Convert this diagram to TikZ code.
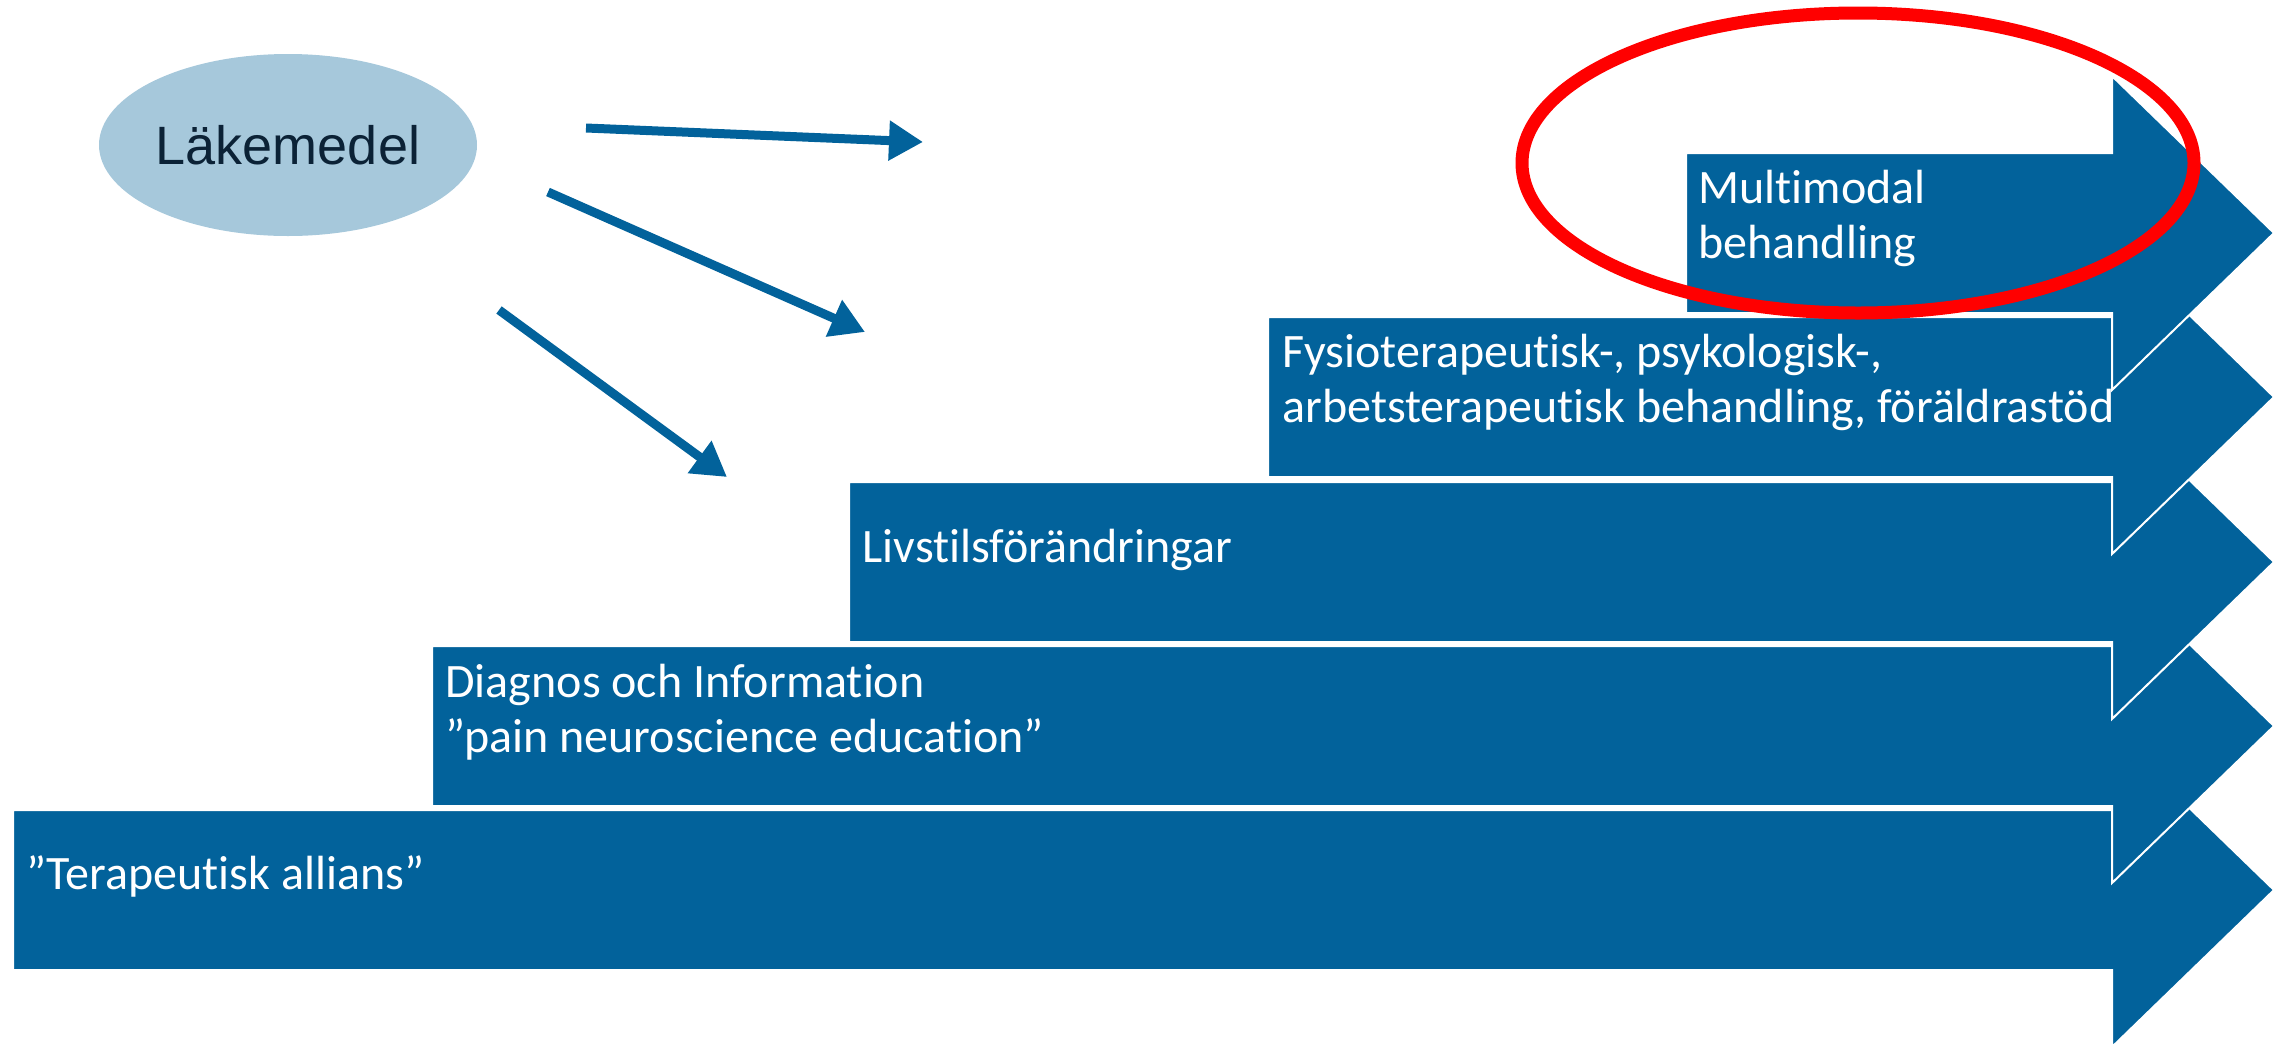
\documentclass[tikz,border=0pt]{standalone}
\usepackage{fontspec}
\setmainfont{Carlito}[Ligatures=NoCommon]
\newfontfamily\arialfont{Liberation Sans}
\usetikzlibrary{arrows.meta,shapes.geometric}
\definecolor{stepblue}{HTML}{02629B}
\definecolor{pillblue}{HTML}{A6C8DB}
\definecolor{navytext}{HTML}{0B2236}
\tikzset{
  bigarrow/.style={fill=stepblue, draw=white, line width=1pt, line join=miter},
  steptext/.style={text=white, anchor=north west, inner sep=0pt, align=left,
    font=\fontsize{24pt}{27.5pt}\selectfont},
  smallarrow/.style={draw=stepblue, line width=4.5pt,
    -{Triangle[length=17pt,width=19pt]}},
  pill/.style={ellipse, fill=pillblue, minimum width=189pt, minimum height=91pt,
    inner sep=0pt, text=navytext, font=\arialfont\fontsize{27pt}{32pt}\selectfont},
}
\newcommand\stagearrow[2]{%
  \draw[bigarrow] (#1,#2-80) -- (2112,#2-80) -- (2112,#2-157) -- (2274,#2)
    -- (2112,#2+157) -- (2112,#2+80) -- (#1,#2+80) -- cycle;}
\begin{document}
\begin{tikzpicture}[x=0.5pt,y=-0.5pt]
\useasboundingbox (0,0) rectangle (2280,1045);
\clip (0,0) rectangle (2280,1045);
% stacked arrows, bottom first
\stagearrow{13}{890}
\stagearrow{432}{726}
\stagearrow{849}{562}
\stagearrow{1268}{397}
\stagearrow{1686}{233}
% texts
\node[steptext] (t1) at (26,855) {”Terapeutisk allians”};
\node[steptext] (t2) at (445,664) {Diagnos och Information\\”pain neuroscience education”};
\node[steptext] (t3) at (862,529) {Livstilsförändringar};
\node[steptext] (t4) at (1282,334) {Fysioterapeutisk-, psykologisk-,\\arbetsterapeutisk behandling, föräldrastöd};
\node[steptext] (t5) at (1698,170) {Multimodal\\behandling};
% Läkemedel
\node[pill] (lak) at (288,145) {Läkemedel};
\coordinate (a1s) at (586,128);
\coordinate (a1e) at (923,142);
\coordinate (a2s) at (548,192);
\coordinate (a2e) at (865,332);
\coordinate (a3s) at (499,310);
\coordinate (a3e) at (727,477);
\draw[smallarrow] (a1s) -- (a1e);
\draw[smallarrow] (a2s) -- (a2e);
\draw[smallarrow] (a3s) -- (a3e);
% red highlight
\node[draw=red, line width=6.5pt, ellipse, minimum width=336pt, minimum height=150pt, inner sep=0pt] (hl) at (1858,163) {};
\end{tikzpicture}
\end{document}
